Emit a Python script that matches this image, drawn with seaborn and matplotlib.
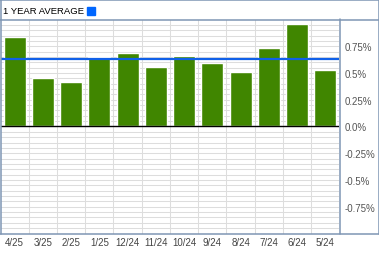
import matplotlib
matplotlib.use("Agg")
import matplotlib.pyplot as plt
import seaborn as sns
import pandas as pd
import numpy as np
from matplotlib.ticker import MultipleLocator
from matplotlib.lines import Line2D

categories = ["4/25", "3/25", "2/25", "1/25", "12/24", "11/24", "10/24", "9/24", "8/24", "7/24", "6/24", "5/24"]
values = [0.833, 0.45, 0.42, 0.648, 0.688, 0.556, 0.657, 0.593, 0.51, 0.731, 0.954, 0.528]
average = 0.63
ytick_vals = [0.75, 0.5, 0.25, 0.0, -0.25, -0.5, -0.75]
ytick_labels = ["0.75%", "0.5%", "0.25%", "0.0%", "-0.25%", "-0.5%", "-0.75%"]
title = "1 YEAR AVERAGE"

sns.set_theme(style="white")
plt.rcParams['font.family'] = ['Liberation Sans', 'DejaVu Sans']

W, H = 379, 255
fig = plt.figure(figsize=(W / 100, H / 100), dpi=100)
fig.patch.set_facecolor("white")

L, R, T, B = 0.5, 339.5, 20.5, 234.5
ax = fig.add_axes([L / W, 1 - B / H, (R - L) / W, (B - T) / H])

df = pd.DataFrame({"month": categories, "value": values})
sns.barplot(data=df, x="month", y="value", color="#408600", saturation=1,
            width=0.78, ax=ax, zorder=3)

ax.set_xlim(-0.5, len(categories) - 0.5)
ax.set_ylim(-1.0, 1.0)
ax.set_axisbelow(True)

ax.yaxis.set_minor_locator(MultipleLocator(0.05))
ax.set_yticks(ytick_vals)
ax.set_yticklabels(ytick_labels)
ax.yaxis.tick_right()
ax.tick_params(axis="y", which="both", length=0, pad=4, labelsize=7, labelcolor="#555555")
ax.set_xticks(np.arange(len(categories)))
ax.set_xticks(np.arange(len(categories) - 1) + 0.5, minor=True)
ax.set_xticklabels(categories)
ax.tick_params(axis="x", which="both", length=0, pad=2.5, labelsize=7, labelcolor="#444444")
ax.set_xlabel("")
ax.set_ylabel("")

ax.grid(False)
ax.grid(which="minor", axis="both", color="#dddddd", linewidth=0.75, zorder=0)
ax.grid(which="major", axis="y", color="#dddddd", linewidth=0.75, zorder=0)

ax.axhline(0, color="black", linewidth=1.0, zorder=4)
ax.axhline(average, color="#1060e8", linewidth=1.6, zorder=5)

for s in ax.spines.values():
    s.set_visible(False)

bc = "#7f96b4"
lw = 1.1
def hline(y, x0, x1):
    fig.add_artist(Line2D([x0 / W, x1 / W], [1 - y / H, 1 - y / H], color=bc, linewidth=lw))
def vline(x, y0, y1):
    fig.add_artist(Line2D([x / W, x / W], [1 - y0 / H, 1 - y1 / H], color=bc, linewidth=lw))

hline(0.5, 0, 379)
hline(20.5, 0, 379)
hline(234.5, 0, 379)
vline(0.5, 0, 235)
vline(378.5, 0, 235)
vline(339.5, 20, 235)

fig.text(3 / W, 1 - 11 / H, title, fontsize=6.8, color="black", va="center", ha="left")
fig.add_artist(plt.Rectangle((87 / W, 1 - 15.5 / H), 8 / W, 8 / H, color="#0066ff", transform=fig.transFigure))

fig.savefig("out.png", dpi=100)
